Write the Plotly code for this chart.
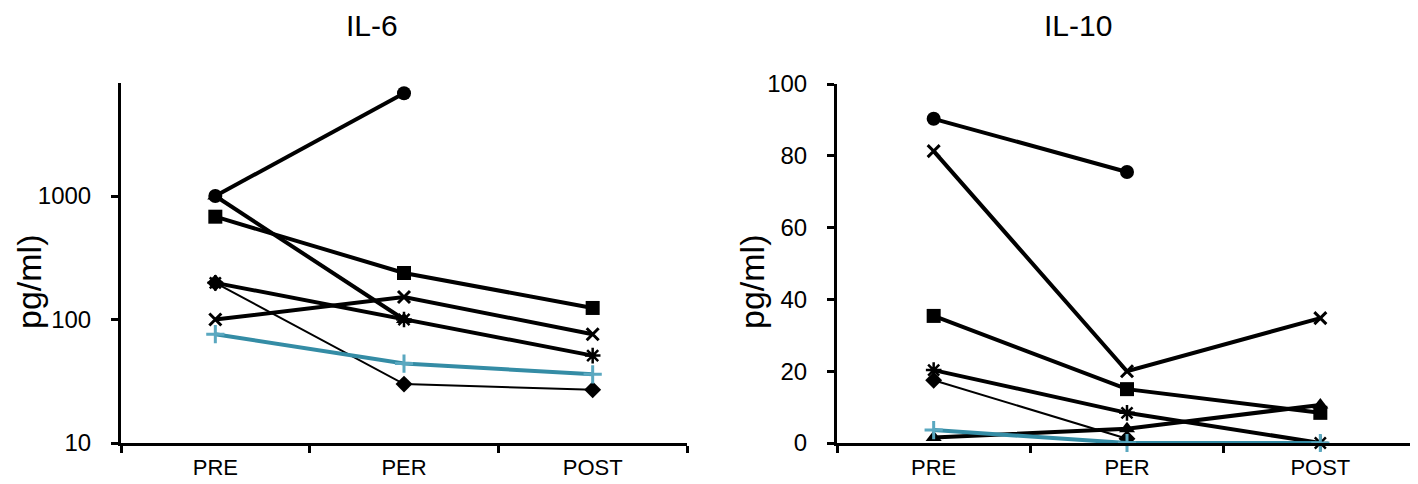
import plotly.graph_objects as go

categories = ["PRE", "PER", "POST"]

# IL-6 (pg/ml, log scale)
il6_diamond = [198, 30, 27]
il6_square = [680, 238, 124]
il6_triangle = [1000, 100, None]
il6_x = [100, 152, 76]
il6_star = [198, 100, 51]
il6_circle = [1000, 6800, None]
il6_teal = [76, 44, 36]

# IL-10 (pg/ml, linear)
il10_diamond = [17.5, 1.2, None]
il10_square = [35.4, 15, 8.4]
il10_triangle = [1.5, 4, 10.6]
il10_x = [81.3, 20, 34.8]
il10_star = [20.3, 8.4, 0]
il10_circle = [90.3, 75.5, None]
il10_teal = [3.6, 0, 0]

BLACK = "#000000"
TEAL = "#348ca5"
TEAL_M = "#5aa8c0"

series_style = [
    # name, symbol, size, line width, marker line width, line color, marker color
    ("diamond", "diamond", 13, 2, 0, BLACK, BLACK),
    ("square", "square", 14, 4, 0, BLACK, BLACK),
    ("triangle", "triangle-up", 14, 4, 0, BLACK, BLACK),
    ("x", "x-thin-open", 12, 4, 3, BLACK, BLACK),
    ("star", "asterisk-open", 13, 4, 2.5, BLACK, BLACK),
    ("circle", "circle", 14, 4, 0, BLACK, BLACK),
    ("teal", "cross-thin-open", 13, 4, 3, TEAL, TEAL_M),
]

il6 = [il6_diamond, il6_square, il6_triangle, il6_x, il6_star, il6_circle, il6_teal]
il10 = [il10_diamond, il10_square, il10_triangle, il10_x, il10_star, il10_circle, il10_teal]

fig = go.Figure()

def add_series(data, xa, ya):
    for vals, (nm, sym, sz, lw, mlw, col, mcol) in zip(data, series_style):
        marker = dict(symbol=sym, size=sz, color=mcol)
        if mlw:
            marker["line"] = dict(width=mlw, color=mcol)
        fig.add_trace(go.Scatter(
            x=categories, y=vals, mode="lines+markers", name=nm,
            line=dict(color=col, width=lw), marker=marker,
            connectgaps=False, xaxis=xa, yaxis=ya, showlegend=False,
            cliponaxis=False,
        ))

add_series(il6, "x", "y")
add_series(il10, "x2", "y2")

FONT = "Liberation Sans, Arial, sans-serif"
OFF = 8  # page body margin
W, H = 1418 - OFF, 484 - OFF

def px_x(p):
    return (p - OFF) / W

def px_y(p):
    return 1 - (p - OFF) / H

y_bottom = px_y(443)

axis_common = dict(
    showline=True, linecolor="black", linewidth=3,
    ticks="outside", tickcolor="black", tickwidth=3, ticklen=7,
    showgrid=False, zeroline=False, automargin=False,
)
xfont = dict(family=FONT, size=22, color="black")
yfont = dict(family=FONT, size=24, color="black")

fig.update_layout(
    width=W, height=H,
    margin=dict(l=0, r=0, t=0, b=0),
    paper_bgcolor="white", plot_bgcolor="white",
    xaxis=dict(domain=[px_x(121), px_x(687)], anchor="y", type="category",
               categoryorder="array", categoryarray=categories,
               range=[-0.5, 2.5], tickson="boundaries", ticklabelstandoff=3,
               tickfont=xfont, **axis_common),
    yaxis=dict(domain=[y_bottom, px_y(83)], anchor="x", type="log",
               range=[1, 1 + 360 / 123.5], tickvals=[10, 100, 1000],
               ticktext=["10", "100", "1000"], ticklabelstandoff=15,
               tickfont=yfont, **axis_common),
    xaxis2=dict(domain=[px_x(837), min(1.0, px_x(1417))], anchor="y2", type="category",
                categoryorder="array", categoryarray=categories,
                range=[-0.5, 2.5], tickson="boundaries", ticklabelstandoff=3,
                tickfont=xfont, **axis_common),
    yaxis2=dict(domain=[y_bottom, px_y(84)], anchor="x2", range=[0, 100],
                tickvals=[0, 20, 40, 60, 80, 100], ticklabelstandoff=15,
                tickfont=yfont, **axis_common),
)

annots = [
    dict(text="IL-6", x=px_x(372), y=px_y(26), size=30, angle=0),
    dict(text="IL-10", x=px_x(1078), y=px_y(26), size=30, angle=0),
    dict(text="pg/ml)", x=px_x(29), y=px_y(282), size=34, angle=-90),
    dict(text="pg/ml)", x=px_x(752), y=px_y(282), size=34, angle=-90),
]
for a in annots:
    fig.add_annotation(text=a["text"], x=a["x"], y=a["y"], xref="paper", yref="paper",
                       xanchor="center", yanchor="middle", showarrow=False,
                       textangle=a["angle"],
                       font=dict(family=FONT, size=a["size"], color="black"))

fig.write_html("out.html")
